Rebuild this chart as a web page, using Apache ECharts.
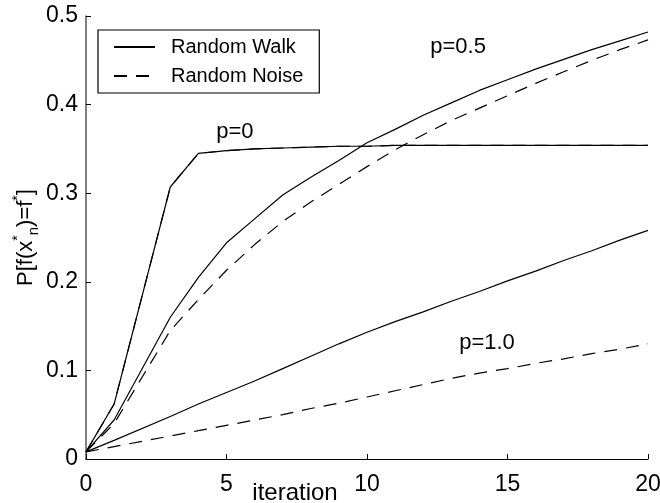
<!DOCTYPE html>
<html>
<head>
<meta charset="utf-8">
<script src="https://cdn.jsdelivr.net/npm/echarts@6/dist/echarts.min.js"></script>
<style>
  html, body { margin: 0; padding: 0; background: #fff; }
  #box { width: 660px; height: 503px; }
</style>
</head>
<body>
<div id="box"></div>
<script>
// iteration points
const iters = [0, 1, 3, 4, 5, 6, 7, 8, 9, 10, 11, 12, 13, 14, 15, 16, 17, 18, 19, 20]

// p = 0 (walk and noise lie on top of each other)
const p0 = [0.008, 0.062, 0.307, 0.345, 0.348, 0.350, 0.351, 0.352, 0.353, 0.353,
  0.354, 0.354, 0.354, 0.354, 0.354, 0.354, 0.354, 0.354, 0.354, 0.354]
// p = 0.5
const walk05 = [0.008, 0.044, 0.160, 0.205, 0.244, 0.271, 0.298, 0.318, 0.337, 0.357,
  0.372, 0.388, 0.402, 0.416, 0.428, 0.440, 0.451, 0.462, 0.472, 0.482]
const noise05 = [0.008, 0.040, 0.145, 0.180, 0.213, 0.242, 0.268, 0.290, 0.310, 0.330,
  0.349, 0.366, 0.382, 0.396, 0.410, 0.424, 0.437, 0.450, 0.462, 0.473]
// p = 1.0
const walk10 = [0.008, 0.021, 0.048, 0.062, 0.075, 0.088, 0.102, 0.116, 0.130, 0.143,
  0.155, 0.166, 0.178, 0.189, 0.201, 0.212, 0.224, 0.235, 0.247, 0.258]
const noise10 = [0.008, 0.014, 0.026, 0.032, 0.038, 0.044, 0.050, 0.057, 0.063, 0.070,
  0.077, 0.084, 0.091, 0.097, 0.102, 0.108, 0.113, 0.119, 0.124, 0.130]

const legendNames = ['Random Walk', 'Random Noise']
// annotation texts and where they sit, in data units
const notes = [
  { text: 'p=0', x: 5.3, y: 0.369 },
  { text: 'p=0.5', x: 13.24, y: 0.465 },
  { text: 'p=1.0', x: 14.27, y: 0.131 }
]

const font = "'Liberation Sans', Arial, sans-serif"
const pairs = ys => iters.map((x, i) => [x, ys[i]])

function line(name, ys, dashed) {
  return {
    name: name,
    type: 'line',
    data: pairs(ys),
    symbol: 'none',
    silent: true,
    color: '#000',
    lineStyle: {
      color: '#000',
      width: 1.2,
      type: dashed ? [13, 9] : 'solid'
    }
  }
}

const myChart = echarts.init(document.getElementById('box'))
myChart.setOption({
  animation: false,
  textStyle: { fontFamily: font, color: '#000' },
  grid: { left: 86, right: 12, top: 16, bottom: 44, containLabel: false, outerBoundsMode: 'none' },
  legend: {
    data: legendNames,
    orient: 'vertical',
    left: 98,
    top: 30,
    itemWidth: 41,
    itemHeight: 14,
    itemGap: 7,
    padding: [6, 16, 6, 15],
    borderColor: '#000',
    borderWidth: 1.2,
    itemStyle: { opacity: 0 },
    textStyle: { fontSize: 20, lineHeight: 22, color: '#000', padding: [0, 0, 0, 11] }
  },
  xAxis: {
    type: 'value',
    min: 0,
    max: 20,
    interval: 5,
    name: 'iteration',
    nameLocation: 'middle',
    nameGap: 22,
    nameMoveOverlap: false,
    nameTextStyle: { fontSize: 24, color: '#000', padding: [0, 144, 0, 0] },
    splitLine: { show: false },
    axisLine: { lineStyle: { color: '#000', width: 1.2 } },
    axisTick: { inside: true, length: 5, lineStyle: { color: '#000' } },
    axisLabel: { fontSize: 23, color: '#000', margin: 14 }
  },
  yAxis: {
    type: 'value',
    min: 0,
    max: 0.5,
    interval: 0.1,
    name: 'P[f(x{sup|*}{sub|n})=f{sup|*}]',
    nameLocation: 'middle',
    nameGap: 45,
    nameMoveOverlap: false,
    nameTextStyle: {
      fontSize: 22,
      lineHeight: 30,
      color: '#000',
      rich: {
        sup: { fontSize: 14, lineHeight: 14, verticalAlign: 'top' },
        sub: { fontSize: 15, lineHeight: 15, verticalAlign: 'bottom' }
      }
    },
    splitLine: { show: false },
    axisLine: { show: true, lineStyle: { color: '#555', width: 1.5 } },
    axisTick: { show: true, inside: true, length: 5, lineStyle: { color: '#000' } },
    axisLabel: { fontSize: 23, color: '#000', margin: 8 }
  },
  series: [
    line('Random Walk', p0, false),
    line('Random Noise', p0, true),
    line('Random Walk', walk05, false),
    line('Random Noise', noise05, true),
    line('Random Walk', walk10, false),
    line('Random Noise', noise10, true)
  ]
})

// place the p= labels through the chart's own scales
myChart.setOption({
  graphic: notes.map(n => {
    const pt = myChart.convertToPixel({ gridIndex: 0 }, [n.x, n.y])
    return {
      type: 'text',
      x: pt[0],
      y: pt[1],
      style: {
        text: n.text,
        fontSize: 22,
        fontFamily: font,
        fill: '#000',
        align: 'center',
        verticalAlign: 'middle'
      }
    }
  })
})
</script>
</body>
</html>
